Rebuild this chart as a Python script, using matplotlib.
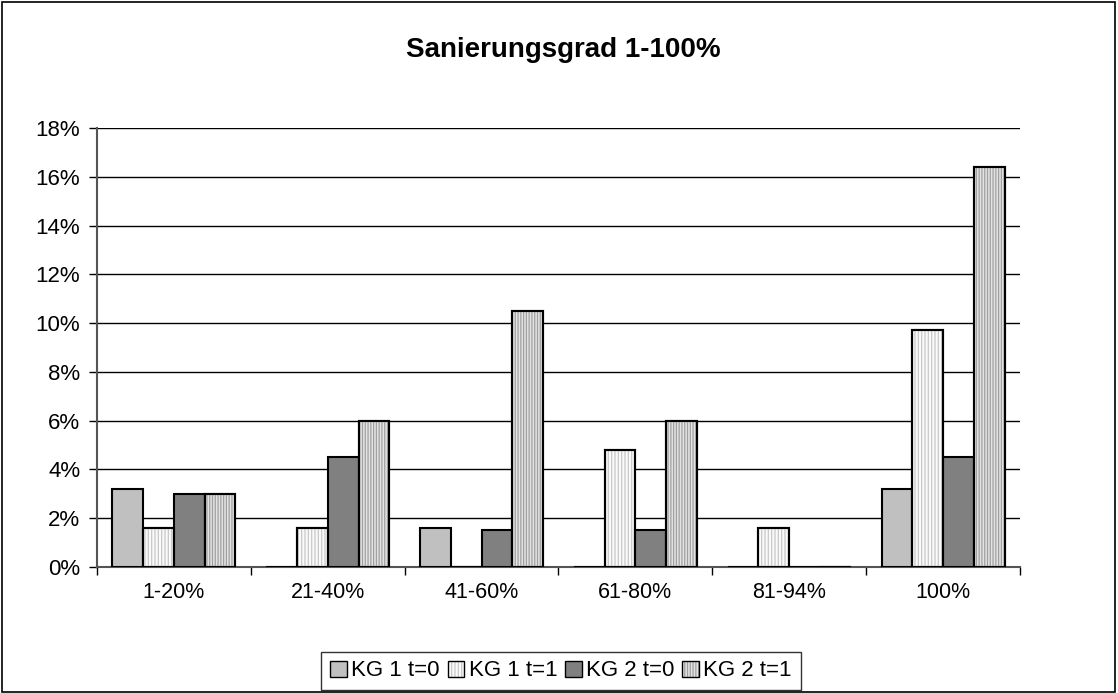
import matplotlib
matplotlib.use('Agg')
import matplotlib.pyplot as plt
from matplotlib.patches import Rectangle
from matplotlib.ticker import FuncFormatter, FixedLocator
from matplotlib.legend_handler import HandlerTuple
import numpy as np

plt.rcParams['font.family'] = ['Liberation Sans', 'DejaVu Sans']
plt.rcParams['hatch.linewidth'] = 0.9

categories = ['1-20%', '21-40%', '41-60%', '61-80%', '81-94%', '100%']
series = ['KG 1 t=0', 'KG 1 t=1', 'KG 2 t=0', 'KG 2 t=1']
kg1_t0 = [3.2, 0.0, 1.6, 0.0, 0.0, 3.2]
kg1_t1 = [1.6, 1.6, 0.0, 4.8, 1.6, 9.7]
kg2_t0 = [3.0, 4.5, 1.5, 1.5, 0.0, 4.5]
kg2_t1 = [3.0, 6.0, 10.5, 6.0, 0.0, 16.4]

values = [kg1_t0, kg1_t1, kg2_t0, kg2_t1]
faces = ['#c0c0c0', '#fafafa', '#808080', '#e4e4e4']
hatches = [None, '|||||', None, '||||||']
hatch_cols = [None, '#c8c8c8', None, '#a0a0a0']

fig = plt.figure(figsize=(11.18, 6.93), dpi=100)
fig.patches.append(Rectangle((0.002, 0.002), 0.995, 0.995, transform=fig.transFigure,
                             fill=False, edgecolor='black', linewidth=1.2))
ax = fig.add_axes([97 / 1118, 1 - 567 / 693, (1020 - 97) / 1118, (567 - 128) / 693])

x = np.arange(len(categories))
w = 0.2
for i, (vals, fc, h, hc) in enumerate(zip(values, faces, hatches, hatch_cols)):
    pos = x - 0.3 + i * w
    ax.bar(pos, vals, width=w, color=fc, edgecolor='black', linewidth=1.5, zorder=3)
    if h:
        # hatch in its own colour, then the outline again on top
        ax.bar(pos, vals, width=w, color='none', edgecolor=hc, hatch=h, linewidth=0, zorder=3.5)
        ax.bar(pos, vals, width=w, color='none', edgecolor='black', linewidth=1.5, zorder=4)

ax.set_xlim(-0.5, len(categories) - 0.5)
ax.set_ylim(0, 18)
ax.yaxis.set_major_locator(FixedLocator(np.arange(0, 19, 2)))
ax.yaxis.set_major_formatter(FuncFormatter(lambda v, p: f'{v:.0f}%'))
ax.grid(axis='y', color='black', linewidth=1.0, zorder=0)
ax.set_xticks(x)
ax.set_xticklabels(categories)
ax.set_xticks(np.arange(-0.5, len(categories)), minor=True)
ax.tick_params(axis='x', which='major', length=0, pad=11, labelsize=15.5)
ax.tick_params(axis='x', which='minor', length=6, width=1.0, direction='out')
ax.tick_params(axis='y', length=6, width=1.0, direction='out', labelsize=16, pad=6)
for s in ['top', 'right']:
    ax.spines[s].set_visible(False)
for s in ['left', 'bottom']:
    ax.spines[s].set_linewidth(1.5)
    ax.spines[s].set_color('#555555')

fig.text(0.504, 1 - 50 / 693, 'Sanierungsgrad 1-100%', ha='center', va='center',
         fontsize=20, fontweight='bold')

handles = []
for i in range(4):
    if hatches[i]:
        hp = Rectangle((0, 0), 1, 1, facecolor=faces[i], edgecolor=hatch_cols[i],
                       hatch=hatches[i], linewidth=0)
        bp = Rectangle((0, 0), 1, 1, facecolor='none', edgecolor='black', linewidth=1.0)
        handles.append((hp, bp))
    else:
        handles.append(Rectangle((0, 0), 1, 1, facecolor=faces[i], edgecolor='black',
                                 linewidth=1.0))
leg = fig.legend(handles, series, loc='center', bbox_to_anchor=(561 / 1118, 1 - 671 / 693),
                 ncol=4, frameon=True, fancybox=False, edgecolor='black',
                 fontsize=16, handlelength=0.75, handleheight=0.75, handletextpad=0.2,
                 columnspacing=0.35, borderpad=0.4, borderaxespad=0,
                 handler_map={tuple: HandlerTuple(ndivide=1, pad=0)})
leg.get_frame().set_linewidth(1.0)

fig.savefig('out.png', dpi=100)
